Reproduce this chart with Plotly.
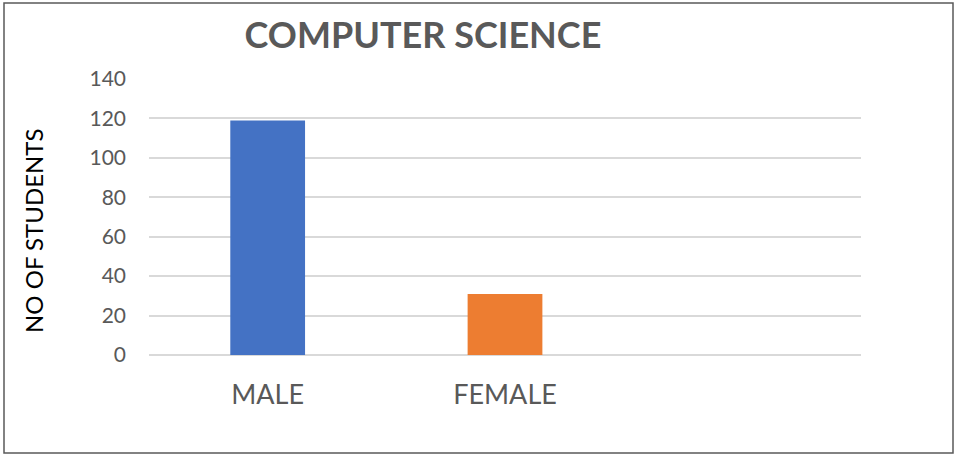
import plotly.graph_objects as go

# student counts
categories = ["MALE", "FEMALE"]
students = [119, 31]
bar_colors = ["#4472C4", "#ED7D31"]
y_ticks = [0, 20, 40, 60, 80, 100, 120, 140]

fig = go.Figure()
fig.add_trace(go.Bar(x=categories, y=students, marker_color=bar_colors,
                     marker_line_width=0, width=0.315))

fig.update_layout(
    width=954, height=454,
    margin=dict(l=149, r=93, t=79, b=99),
    paper_bgcolor="white", plot_bgcolor="white",
    font=dict(family="Lato, Open Sans, sans-serif", color="#595959"),
    showlegend=False,
    title=dict(text="<b>COMPUTER SCIENCE</b>", x=423 / 954, xanchor="center",
               xref="container", y=1 - 35 / 454, yref="container", yanchor="middle",
               font=dict(size=36, color="#595959")),
)
fig.update_xaxes(range=[-0.5, 2.5], showgrid=False, showline=False, ticks="",
                 tickfont=dict(size=27, color="#595959"), ticklabelstandoff=21)
fig.update_yaxes(range=[0, 140], tickvals=y_ticks, showgrid=True, gridcolor="#d9d9d9",
                 gridwidth=1.5, zeroline=True, zerolinecolor="#d9d9d9", zerolinewidth=1.5,
                 showline=False, ticks="", tickfont=dict(size=21, color="#595959"),
                 ticklabelstandoff=22)

# y axis title, placed by hand (it sits a bit below the plot's middle)
fig.add_annotation(text="NO OF STUDENTS", textangle=-90, showarrow=False,
                   xref="paper", yref="paper", x=(33 - 149) / 712, y=(355 - 231) / 276,
                   xanchor="center", yanchor="middle",
                   font=dict(size=24, color="#000000"))

# chart border
fig.add_shape(type="rect", xref="paper", yref="paper",
              x0=(4 - 149) / 712, x1=(953 - 149) / 712,
              y0=(355 - 453) / 276, y1=(355 - 3) / 276,
              line=dict(color="#595959", width=1.5), fillcolor="rgba(0,0,0,0)")

fig.write_html("out.html", config={"displayModeBar": False},
               post_script="document.body.style.margin='0';")
